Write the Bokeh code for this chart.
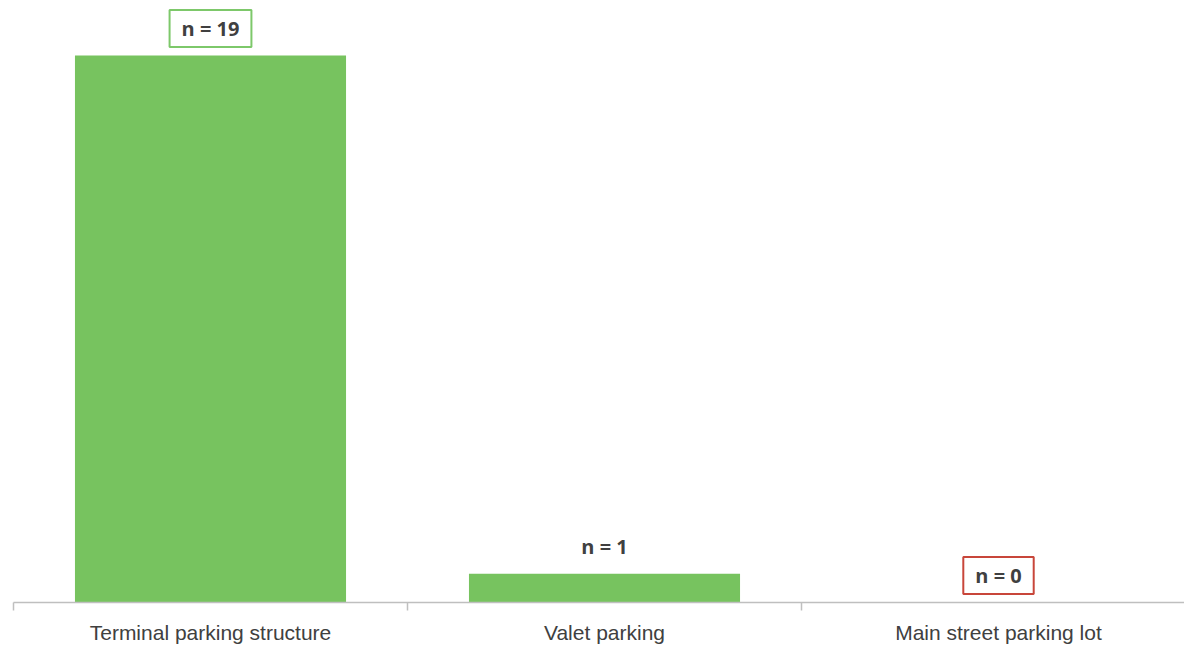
from bokeh.plotting import figure
from bokeh.models import Range1d, FixedTicker, Label, ColumnDataSource
from bokeh.embed import file_html
from bokeh.resources import INLINE

categories = ["Terminal parking structure", "Valet parking", "Main street parking lot"]
counts = [19, 1, 0]
label_texts = ["n = 19", "n = 1", "n = 0"]
box_colors = ["#7DC86A", None, "#C8463A"]

BAR_COLOR = "#77C35F"
TEXT_COLOR = "#404040"

xs = [i + 0.5 for i in range(len(categories))]

p = figure(frame_width=1184, frame_height=602, output_backend="svg", toolbar_location=None,
           x_range=Range1d(-13 / 394, (1184 - 13) / 394), y_range=Range1d(0, 602 / 28.79),
           min_border=0, min_border_left=0, min_border_right=0, min_border_top=0, min_border_bottom=0)
p.outline_line_color = None
p.grid.visible = False
p.yaxis.visible = False
p.background_fill_color = "white"
p.border_fill_color = "white"

src = ColumnDataSource(dict(x=xs, top=counts))
p.vbar(x="x", top="top", bottom=0, width=0.688, source=src, fill_color=BAR_COLOR, line_color=None)

ax = p.xaxis[0]
ax.bounds = (0, len(categories))
ax.ticker = FixedTicker(ticks=xs, minor_ticks=list(range(len(categories) + 1)))
ax.major_label_overrides = {x: c for x, c in zip(xs, categories)}
ax.major_tick_line_color = None
ax.major_tick_out = 0
ax.major_tick_in = 0
ax.minor_tick_line_color = "#BFBFBF"
ax.minor_tick_out = 8
ax.minor_tick_in = 0
ax.minor_tick_line_width = 1.5
ax.axis_line_color = "#BFBFBF"
ax.axis_line_width = 1.5
ax.major_label_standoff = 10
ax.major_label_text_font = "Liberation Sans"
ax.major_label_text_font_size = "21px"
ax.major_label_text_color = TEXT_COLOR

for x, c, t, bc in zip(xs, counts, label_texts, box_colors):
    kw = {}
    if bc:
        kw = dict(border_line_color=bc, border_line_width=2, background_fill_color="white",
                  padding=[12, 5])
    p.add_layout(Label(x=x, y=c, text=t, y_offset=27, text_align="center", text_baseline="middle",
                       text_font="Open Sans", text_font_style="bold", text_font_size="20px",
                       text_color=TEXT_COLOR, **kw))

open("out.html", "w").write(file_html(p, INLINE))
